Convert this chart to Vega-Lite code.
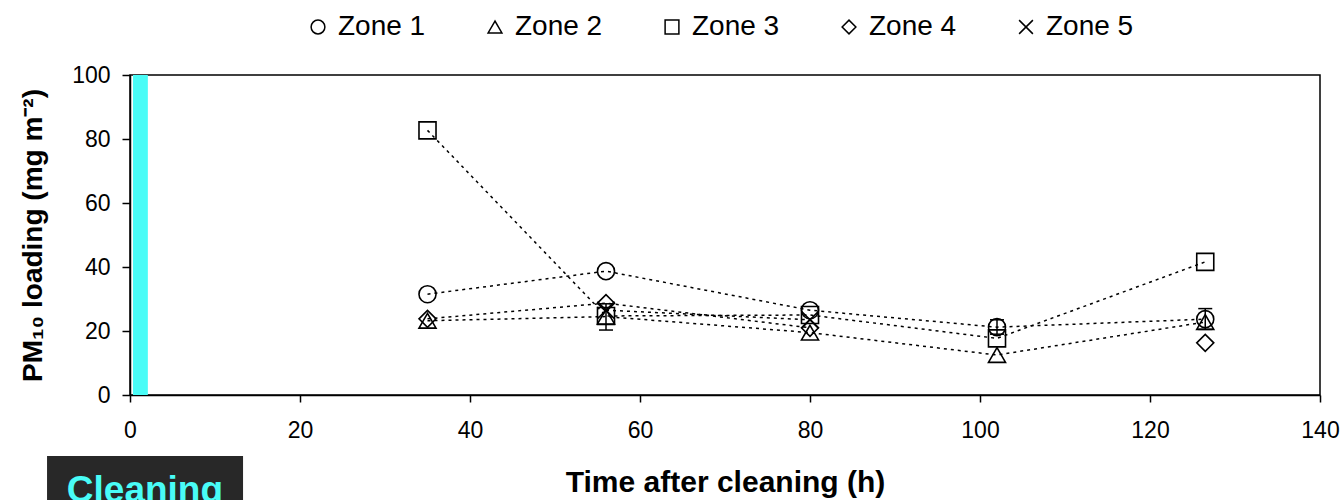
{
  "$schema": "https://vega.github.io/schema/vega-lite/v6.json",
  "autosize": {"type": "none"},
  "width": 1190,
  "height": 320,
  "padding": {"left": 130, "top": 75, "right": 23, "bottom": 105},
  "background": "white",
  "config": {
    "font": "Liberation Sans",
    "view": {"stroke": "black", "strokeWidth": 1.5},
    "axis": {"grid": false, "domainColor": "black", "domainWidth": 1.5, "tickColor": "black", "tickWidth": 1.5, "labelColor": "black", "titleColor": "black", "labelFont": "Liberation Sans", "titleFont": "Liberation Sans"}
  },
  "datasets": {
    "pm": [
      {"zone": "Zone 1", "time": 35, "pm": 31.5},
      {"zone": "Zone 1", "time": 56, "pm": 38.7},
      {"zone": "Zone 1", "time": 80, "pm": 26.5},
      {"zone": "Zone 1", "time": 102, "pm": 21.2},
      {"zone": "Zone 1", "time": 126.5, "pm": 23.7},
      {"zone": "Zone 2", "time": 35, "pm": 23.2},
      {"zone": "Zone 2", "time": 56, "pm": 24.5},
      {"zone": "Zone 2", "time": 80, "pm": 19.5},
      {"zone": "Zone 2", "time": 102, "pm": 12.5},
      {"zone": "Zone 2", "time": 126.5, "pm": 22.8},
      {"zone": "Zone 3", "time": 35, "pm": 82.7},
      {"zone": "Zone 3", "time": 56, "pm": 24.7},
      {"zone": "Zone 3", "time": 80, "pm": 25.0},
      {"zone": "Zone 3", "time": 102, "pm": 17.7},
      {"zone": "Zone 3", "time": 126.5, "pm": 41.6},
      {"zone": "Zone 4", "time": 35, "pm": 23.8},
      {"zone": "Zone 4", "time": 56, "pm": 28.7},
      {"zone": "Zone 4", "time": 80, "pm": 21.0},
      {"zone": "Zone 4", "time": 102, "pm": null},
      {"zone": "Zone 4", "time": 126.5, "pm": 16.3},
      {"zone": "Zone 5", "time": 56, "pm": 26.5},
      {"zone": "Zone 5", "time": 80, "pm": 23.5}
    ],
    "err": [
      {"zone": "Zone 2", "time": 56, "lo": 20.3, "hi": 28.5},
      {"zone": "Zone 1", "time": 102, "lo": 19.0, "hi": 23.5},
      {"zone": "Zone 1", "time": 126.5, "lo": 20.5, "hi": 27.0}
    ],
    "one": [{"label": "Cleaning"}]
  },
  "layer": [
    {
      "data": {"name": "one"},
      "mark": {"type": "rect", "color": "#49FCF7"},
      "encoding": {
        "x": {"datum": 0.35, "type": "quantitative", "scale": {"domain": [0, 140], "nice": false}},
        "x2": {"datum": 2.1},
        "y": {"datum": 0, "type": "quantitative", "scale": {"domain": [0, 100], "nice": false}},
        "y2": {"datum": 100}
      }
    },
    {
      "data": {"name": "pm"},
      "mark": {"type": "line", "color": "black", "strokeWidth": 1.5, "strokeDash": [3, 4], "invalid": "break-paths-show-domains"},
      "encoding": {
        "x": {"field": "time", "type": "quantitative"},
        "y": {"field": "pm", "type": "quantitative"},
        "detail": {"field": "zone", "type": "nominal"}
      }
    },
    {
      "data": {"name": "pm"},
      "mark": {"type": "point", "filled": false, "color": "black", "strokeWidth": 1.6, "size": 290, "opacity": 1},
      "encoding": {
        "x": {"field": "time", "type": "quantitative"},
        "y": {"field": "pm", "type": "quantitative"},
        "shape": {
          "field": "zone", "type": "nominal",
          "scale": {"domain": ["Zone 1", "Zone 2", "Zone 3", "Zone 4", "Zone 5"], "range": ["circle", "triangle-up", "square", "diamond", "M-1,-1L1,1M-1,1L1,-1"]},
          "legend": {
            "title": null, "orient": "none", "direction": "horizontal",
            "legendX": 174, "legendY": -62,
            "labelFontSize": 28, "labelFont": "Liberation Sans", "labelColor": "black",
            "symbolSize": 190, "symbolStrokeWidth": 1.5, "symbolStrokeColor": "black", "symbolFillColor": "transparent",
            "labelOffset": 6, "columnPadding": 55
          }
        }
      }
    },
    {
      "data": {"name": "err"},
      "mark": {"type": "rule", "color": "black", "strokeWidth": 1.5},
      "encoding": {
        "x": {"field": "time", "type": "quantitative"},
        "y": {"field": "lo", "type": "quantitative"},
        "y2": {"field": "hi"}
      }
    },
    {
      "data": {"name": "err"},
      "mark": {"type": "tick", "color": "black", "orient": "horizontal", "size": 14, "thickness": 1.5, "opacity": 1},
      "encoding": {
        "x": {"field": "time", "type": "quantitative"},
        "y": {"field": "lo", "type": "quantitative"}
      }
    },
    {
      "data": {"name": "err"},
      "mark": {"type": "tick", "color": "black", "orient": "horizontal", "size": 14, "thickness": 1.5, "opacity": 1},
      "encoding": {
        "x": {"field": "time", "type": "quantitative"},
        "y": {"field": "hi", "type": "quantitative"}
      }
    },
    {
      "data": {"name": "one"},
      "mark": {"type": "rect", "color": "#282828", "clip": false},
      "encoding": {
        "x": {"datum": -9.76, "type": "quantitative"},
        "x2": {"datum": 13.3},
        "y": {"datum": -19.1, "type": "quantitative"},
        "y2": {"datum": -40}
      }
    },
    {
      "data": {"name": "one"},
      "mark": {"type": "text", "color": "#49FCF7", "font": "Liberation Sans", "fontWeight": "bold", "fontSize": 37, "align": "center", "baseline": "alphabetic", "clip": false},
      "encoding": {
        "text": {"field": "label", "type": "nominal"},
        "x": {"datum": 1.76, "type": "quantitative"},
        "y": {"datum": -33.3, "type": "quantitative"}
      }
    }
  ],
  "encoding": {
    "x": {
      "type": "quantitative",
      "axis": {"values": [0, 20, 40, 60, 80, 100, 120, 140], "title": "Time after cleaning (h)", "titleFontSize": 30, "titleFontWeight": "bold", "labelFontSize": 23, "tickSize": 7, "labelPadding": 17, "titlePadding": 25, "labelFlush": false}
    },
    "y": {
      "type": "quantitative",
      "axis": {"values": [0, 20, 40, 60, 80, 100], "title": "PM₁₀ loading (mg m⁻²)", "titleFontSize": 28, "titleFontWeight": "bold", "labelFontSize": 23, "tickSize": 8, "labelPadding": 12, "titlePadding": 24}
    }
  }
}
